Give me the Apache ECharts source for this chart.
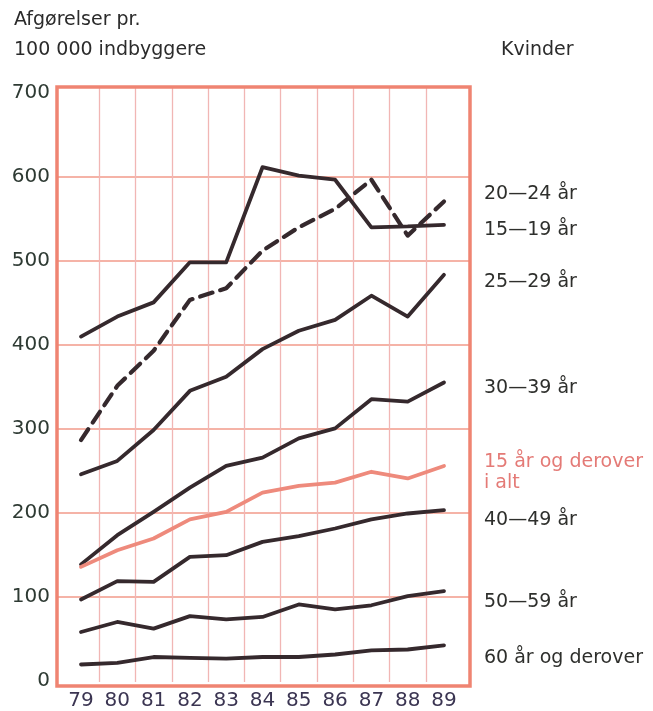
<!DOCTYPE html>
<html>
<head>
<meta charset="utf-8">
<script src="https://cdn.jsdelivr.net/npm/echarts@6/dist/echarts.min.js"></script>
<style>
  html, body { margin: 0; padding: 0; background: #fff; }
  #main { width: 653px; height: 711px; }
</style>
</head>
<body>
<div id="main"></div>
<script>
// år (x-akse)
const years = ['79', '80', '81', '82', '83', '84', '85', '86', '87', '88', '89']
const yTicks = [0, 100, 200, 300, 400, 500, 600, 700]

// afgørelser pr. 100 000 indbyggere, kvinder
const age20_24 = [284, 349, 391, 452, 466, 511, 539, 561, 596, 529, 570]
const age15_19 = [408, 432, 449, 497, 497, 611, 601, 596, 539, 540, 542]
const age25_29 = [243, 259, 296, 343, 360, 393, 415, 428, 457, 432, 482]
const age30_39 = [135, 170, 198, 227, 253, 263, 286, 298, 333, 330, 353]
const total15 = [132, 152, 166, 189, 198, 221, 229, 233, 246, 238, 253]
const age40_49 = [93, 115, 114, 144, 146, 162, 169, 178, 189, 196, 200]
const age50_59 = [54, 66, 58, 73, 69, 72, 87, 81, 86, 97, 103]
const age60 = [15, 17, 24, 23, 22, 24, 24, 27, 32, 33, 38]

const font = 'DejaVu Sans'
const dark = '#35292d'
const salmon = '#ee8a7c'

const chart = echarts.init(document.getElementById('main'))

// px pr. enhed på y-aksen (0..700 over 588 px)
const unit = 588 / 700
const yMin = -5 / unit
const yMax = yMin + 599 / unit

function line(name, data, opts) {
  opts = opts || {}
  return {
    name: name,
    type: 'line',
    xAxisIndex: 2,
    yAxisIndex: 2,
    data: data,
    symbol: 'none',
    lineStyle: {
      color: opts.color || dark,
      width: opts.width || 3.8,
      type: opts.dash || 'solid',
      cap: 'round',
      join: 'round'
    },
    endLabel: {
      show: true,
      formatter: opts.label || name,
      offset: [32, opts.dy || 0],
      color: opts.textColor || '#2e2f2c',
      fontFamily: font,
      fontSize: 19,
      lineHeight: 21,
      align: 'left'
    },
    z: opts.z || 3
  }
}

const titleStyle = { fontFamily: font, fontSize: 19, fontWeight: 'normal', color: '#2b2b2b' }

const option = {
  animation: false,
  backgroundColor: '#fff',
  textStyle: { fontFamily: font },
  title: [
    { text: 'Afgørelser pr.', left: 9, top: 6, textStyle: titleStyle },
    { text: '100 000 indbyggere', left: 9, top: 36, textStyle: titleStyle },
    { text: 'Kvinder', left: 496, top: 36, textStyle: titleStyle }
  ],
  grid: [
    // ramme
    { left: 57, top: 87, width: 413, height: 599, show: true, borderColor: '#ef8472', borderWidth: 3.5, backgroundColor: 'transparent', z: 5 },
    // vandrette linjer + y-etiketter
    { left: 57, top: 93, width: 413, height: 588 },
    // data
    { left: 62.85, top: 87, width: 399.3, height: 599 }
  ],
  xAxis: [
    { gridIndex: 0, type: 'value', show: false },
    { gridIndex: 1, type: 'value', show: false },
    {
      gridIndex: 2,
      type: 'category',
      data: years,
      boundaryGap: true,
      axisLine: { show: false },
      axisTick: { show: false },
      axisLabel: { margin: 9, fontSize: 20, fontFamily: font, color: '#3b3552' },
      splitLine: { show: true, showMinLine: false, showMaxLine: false, lineStyle: { color: '#f1b6b4', width: 1.3 } }
    }
  ],
  yAxis: [
    { gridIndex: 0, type: 'value', show: false },
    {
      gridIndex: 1,
      type: 'value',
      min: yTicks[0],
      max: yTicks[yTicks.length - 1],
      interval: 100,
      axisLine: { show: false },
      axisTick: { show: false },
      axisLabel: { margin: 7, fontSize: 20, fontFamily: font, color: '#2e3a33' },
      splitLine: { show: true, showMinLine: false, showMaxLine: false, lineStyle: { color: '#f29a8a', width: 1.5 } }
    },
    { gridIndex: 2, type: 'value', min: yMin, max: yMax, show: false }
  ],
  series: [
    line('20—24 år', age20_24, { dash: [13, 8], width: 4.2, dy: -7 }),
    line('15—19 år', age15_19, { dy: 5 }),
    line('25—29 år', age25_29, { dy: 7 }),
    line('30—39 år', age30_39, { dy: 6 }),
    line('15 år og derover i alt', total15, { color: salmon, label: '15 år og derover\ni alt', textColor: '#e47a76', dy: 7, z: 4 }),
    line('40—49 år', age40_49, { dy: 10 }),
    line('50—59 år', age50_59, { dy: 11 }),
    line('60 år og derover', age60, { dy: 13 })
  ]
}

chart.setOption(option)
</script>
</body>
</html>
